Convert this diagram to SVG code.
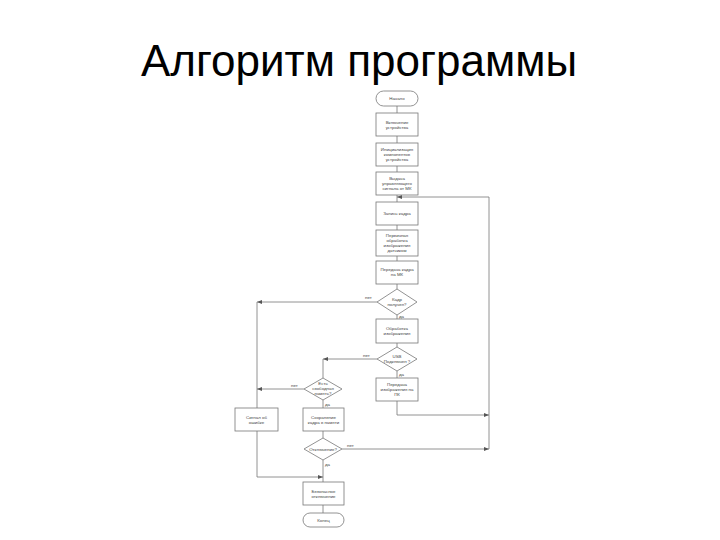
<svg xmlns="http://www.w3.org/2000/svg" width="720" height="540" viewBox="0 0 720 540">
<defs>
<marker id="arr" markerWidth="5" markerHeight="4" refX="5" refY="2" orient="auto" markerUnits="userSpaceOnUse">
<path d="M0,0 L5,2 L0,4 Z" fill="#555"/>
</marker>
<style>
.title{font-family:"Liberation Sans",Arial,sans-serif;font-size:44px;fill:#000;}
.n{fill:#fff;stroke:#777;stroke-width:0.8;}
.t{font-family:"Liberation Sans",Arial,sans-serif;font-size:4.4px;fill:#444;text-anchor:middle;}
.l{font-family:"Liberation Sans",Arial,sans-serif;font-size:4.4px;fill:#444;}
.c{fill:none;stroke:#777;stroke-width:0.8;}
.a{marker-end:url(#arr);}
</style>
</defs>
<rect width="720" height="540" fill="#fff"/>
<text class="title" x="359" y="76" text-anchor="middle">Алгоритм программы</text>

<g id="connectors">
<path class="c" d="M397,106 V113"/>
<path class="c" d="M397,136 V143"/>
<path class="c" d="M397,166 V172"/>
<path class="c" d="M397,195 V202"/>
<path class="c" d="M397,225 V230"/>
<path class="c" d="M397,256 V261"/>
<path class="c" d="M397,284 V289"/>
<path class="c" d="M397,315 V319"/>
<path class="c" d="M397,343 V347"/>
<path class="c" d="M397,371 V378"/>
<path class="c a" d="M397,401 V415 H489"/>
<path class="c a" d="M489,449 V197 H397"/>
<path class="c a" d="M377,302 H257"/>
<path class="c" d="M257,302 V408"/>
<path class="c a" d="M377,359 H323"/>
<path class="c" d="M323,359 V378"/>
<path class="c a" d="M304,389 H257"/>
<path class="c" d="M323,400 V408"/>
<path class="c" d="M323,431 V438"/>
<path class="c a" d="M342,449 H489"/>
<path class="c" d="M323,460 V482"/>
<path class="c a" d="M257,431 V477 H323"/>
<path class="c" d="M323,505 V513"/>
<text class="l" x="365" y="299">нет</text>
<text class="l" x="399" y="318">да</text>
<text class="l" x="363" y="357">нет</text>
<text class="l" x="399" y="376">да</text>
<text class="l" x="291" y="387">нет</text>
<text class="l" x="325" y="406">да</text>
<text class="l" x="347" y="447">нет</text>
<text class="l" x="325" y="466">да</text>
</g>

<g id="start"><rect class="n" x="376" y="91" width="42" height="15" rx="7.5"/><text class="t" x="397" y="100">Начало</text></g>
<g id="power-on"><rect class="n" x="376" y="113" width="42" height="23"/><text class="t" x="397" y="123.5">Включение</text><text class="t" x="397" y="128.5">устройства</text></g>
<g id="init"><rect class="n" x="376" y="143" width="42" height="23"/><text class="t" x="397" y="151">Инициализация</text><text class="t" x="397" y="156">компонентов</text><text class="t" x="397" y="161">устройства</text></g>
<g id="signal"><rect class="n" x="376" y="172" width="42" height="23"/><text class="t" x="397" y="180">Выдача</text><text class="t" x="397" y="185">управляющего</text><text class="t" x="397" y="190">сигнала от МК</text></g>
<g id="capture"><rect class="n" x="376" y="202" width="42" height="23"/><text class="t" x="397" y="215">Запись кадра</text></g>
<g id="preprocess"><rect class="n" x="376" y="230" width="42" height="26"/><text class="t" x="397" y="236.5">Первичная</text><text class="t" x="397" y="241.5">обработка</text><text class="t" x="397" y="246.5">изображения</text><text class="t" x="397" y="251.5">датчиком</text></g>
<g id="transfer-mk"><rect class="n" x="376" y="261" width="42" height="23"/><text class="t" x="397" y="271">Передача кадра</text><text class="t" x="397" y="276">на МК</text></g>
<g id="frame-received"><polygon class="n" points="397,289 417,302 397,315 377,302"/><text class="t" x="397" y="301">Кадр</text><text class="t" x="397" y="306">получен?</text></g>
<g id="processing"><rect class="n" x="376" y="319" width="42" height="24"/><text class="t" x="397" y="330">Обработка</text><text class="t" x="397" y="335">изображения</text></g>
<g id="usb"><polygon class="n" points="397,347 417,359 397,371 377,359"/><text class="t" x="397" y="358">USB</text><text class="t" x="397" y="363">Подключен ?</text></g>
<g id="transfer-pc"><rect class="n" x="376" y="378" width="42" height="23"/><text class="t" x="397" y="386">Передача</text><text class="t" x="397" y="391">изображения на</text><text class="t" x="397" y="396">ПК</text></g>
<g id="free-memory"><polygon class="n" points="323,378 342,389 323,400 304,389"/><text class="t" x="323" y="385">Есть</text><text class="t" x="323" y="390">свободная</text><text class="t" x="323" y="395">память?</text></g>
<g id="error"><rect class="n" x="235" y="408" width="43" height="23"/><text class="t" x="256.5" y="418.5">Сигнал об</text><text class="t" x="256.5" y="423.5">ошибке</text></g>
<g id="save"><rect class="n" x="303" y="408" width="41" height="23"/><text class="t" x="323.5" y="418.5">Сохранение</text><text class="t" x="323.5" y="423.5">кадра в памяти</text></g>
<g id="shutdown-q"><polygon class="n" points="323,438 342,449 323,460 304,449"/><text class="t" x="323" y="450.5">Отключение?</text></g>
<g id="safe-off"><rect class="n" x="303" y="482" width="41" height="23"/><text class="t" x="323.5" y="492.5">Безопасное</text><text class="t" x="323.5" y="497.5">отключение</text></g>
<g id="end"><rect class="n" x="303" y="513" width="41" height="14" rx="7"/><text class="t" x="323.5" y="521.5">Конец</text></g>
</svg>
